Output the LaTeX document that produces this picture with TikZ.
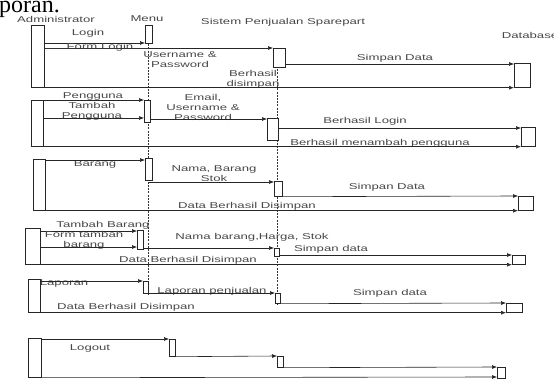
\documentclass[tikz,border=0pt]{standalone}
\usepackage{fontspec}
\setmainfont{Liberation Sans}
\newfontfamily\serifx{Liberation Serif}
\usetikzlibrary{arrows.meta}
\newcommand{\wx}[1]{\scalebox{1.55}[1]{#1}}
\newcommand{\actb}[5]{\node[actbox, minimum width=#4pt, minimum height=#5pt] (#1) at (#2,#3) {};}
\tikzset{
  lbl/.style={font=\fontsize{8.5}{10}\selectfont, text=black!72, inner sep=0pt, align=center},
  actbox/.style={draw=black!85, fill=white, line width=0.7pt, inner sep=0pt, anchor=north west},
  msg/.style={draw=black!85, line width=0.6pt, -{Latex[length=5pt,width=4pt]}},
  ret/.style={draw=black!80, line width=0.6pt},
  life/.style={draw=black!80, line width=0.6pt, dash pattern=on 2pt off 1.2pt}
}
\begin{document}
\begin{tikzpicture}[x=1pt,y=-1pt]
\useasboundingbox (0,0) rectangle (554,379);
\node[anchor=base west, inner sep=0pt, font=\serifx\fontsize{24}{24}\selectfont] (cap) at (-1,13) {poran.};
% headers
\node[lbl] (hA) at (56,19) {\wx{Administrator}};
\node[lbl] (hM) at (147,19) {\wx{Menu}};
\node[lbl] (hS) at (283,22) {\wx{Sistem Penjualan Sparepart}};
\node[lbl] (hD) at (530,35) {\wx{Database}};
% lifelines
\coordinate (mtop) at (148,25);
\coordinate (mbot) at (148,295);
\coordinate (stop) at (277,50);
\coordinate (sbot) at (277,305);
\draw[life] (mtop) -- (mbot);
\draw[life] (stop) -- (sbot);
% activation boxes
\actb{A1}{31}{25}{13}{62}
\actb{A2}{31}{100}{12}{46}
\actb{A3}{33}{159}{12}{51}
\actb{A4}{25}{228}{15}{36}
\actb{A5}{28}{279}{12}{33}
\actb{A6}{28}{338}{13}{39}
\actb{M1}{145}{25}{7}{18}
\actb{M2}{144}{100}{6}{22}
\actb{M3}{145}{158}{7}{22}
\actb{M4}{137}{230}{6}{19}
\actb{M5}{143}{281}{5}{12}
\actb{L1}{169}{339}{6}{17}
\actb{S1}{273}{48}{12}{19}
\actb{S2}{267}{118}{11}{22}
\actb{S3}{274}{181}{8}{15}
\actb{S4}{274}{248}{5}{8}
\actb{S5}{275}{293}{5}{10}
\actb{L2}{277}{356}{6}{11}
\actb{D1}{514}{63}{16}{24}
\actb{D2}{521}{127}{14}{19}
\actb{D3}{518}{196}{15}{14}
\actb{D4}{512}{255}{13}{9}
\actb{D5}{506}{303}{16}{9}
\actb{L3}{497}{367}{8}{11}
% group 1: login
\node[lbl] (t1) at (88,33) {\wx{Login}};
\draw[msg] (A1.east |- 0,43) -- (M1.west |- 0,43);
\node[lbl] (t2) at (100,47) {\wx{Form Login}};
\draw[ret] (M1.south |- 0,48) -- (A1.east |- 0,48);
\node[lbl] (t3) at (180,60) {\wx{Username \&}\\\wx{Password}};
\draw[msg] (mtop |- 0,48) -- (S1.west |- 0,48);
\node[lbl] (t4) at (395,58) {\wx{Simpan Data}};
\draw[msg] (S1.east |- 0,64) -- (D1.west |- 0,64);
\node[lbl] (t5) at (253,79) {\wx{Berhasil}\\\wx{disimpan}};
\draw[msg] (A1.south east) -- (D1.south west);
% group 2: tambah pengguna
\node[lbl] (t6) at (93,96) {\wx{Pengguna}};
\draw[msg] (A2.east |- 0,100) -- (M2.west |- 0,100);
\node[lbl] (t7) at (92,111) {\wx{Tambah}\\\wx{Pengguna}};
\draw[msg] (A2.east |- 0,118) -- (M2.west |- 0,118);
\node[lbl] (t8) at (203,107) {\wx{Email,}\\\wx{Username \&}\\\wx{Password}};
\draw[msg] (M2.east |- 0,119) -- (S2.west |- 0,119);
\node[lbl] (t9) at (365,121) {\wx{Berhasil Login}};
\draw[msg] (S2.east |- 0,128) -- (D2.west |- 0,128);
\node[lbl] (t10) at (380,143) {\wx{Berhasil menambah pengguna}};
\draw[msg] (A2.south east) -- (D2.south west);
% group 3: barang
\node[lbl] (t11) at (95,164) {\wx{Barang}};
\draw[msg] (A3.east |- 0,160) -- (M3.west |- 0,160);
\node[lbl] (t12) at (214,174) {\wx{Nama, Barang}\\\wx{Stok}};
\draw[msg] (mtop |- 0,182) -- (S3.west |- 0,182);
\node[lbl] (t13) at (387,187) {\wx{Simpan Data}};
\draw[msg] (S3.south east) -- (D3.north west);
\node[lbl] (t14) at (247,206) {\wx{Data Berhasil Disimpan}};
\draw[msg] (A3.south east) -- (D3.south west);
% group 4: tambah barang
\node[lbl] (t15) at (103,225) {\wx{Tambah Barang}};
\draw[msg] (A4.east |- 0,231) -- (M4.west |- 0,231);
\node[lbl] (t16) at (84,240) {\wx{Form tambah}\\\wx{barang}};
\draw[msg] (A4.east |- 0,247) -- (M4.west |- 0,247);
\node[lbl] (t17) at (252,237) {\wx{Nama barang,Harga, Stok}};
\draw[msg] (M4.east |- 0,248) -- (S4.west |- 0,248);
\node[lbl] (t18) at (331,249) {\wx{Simpan data}};
\draw[msg] (S4.east |- 0,255) -- (D4.west |- 0,255);
\node[lbl] (t19) at (188,260) {\wx{Data Berhasil Disimpan}};
\draw[msg] (A4.south east) -- (D4.south west);
% group 5: laporan
\node[lbl] (t20) at (64,283) {\wx{Laporan}};
\draw[msg] (A5.east |- 0,281) -- (M5.west |- 0,281);
\node[lbl] (t21) at (212,291) {\wx{Laporan penjualan}};
\draw[msg] (M5.east |- 0,293) -- (S5.west |- 0,293);
\node[lbl] (t22) at (390,293) {\wx{Simpan data}};
\draw[msg] (S5.south east) -- (D5.north west);
\node[lbl] (t23) at (126,307) {\wx{Data Berhasil Disimpan}};
\draw[msg] (A5.south east) -- (D5.south west);
% group 6: logout
\node[lbl] (t24) at (90,348) {\wx{Logout}};
\draw[msg] (A6.east |- 0,339) -- (L1.west |- 0,339);
\draw[msg] (L1.south east) -- (L2.north west);
\draw[msg] (L2.south east) -- (L3.north west);
\draw[msg] (A6.south east) -- (L3.west |- 0,377);
\end{tikzpicture}
\end{document}
